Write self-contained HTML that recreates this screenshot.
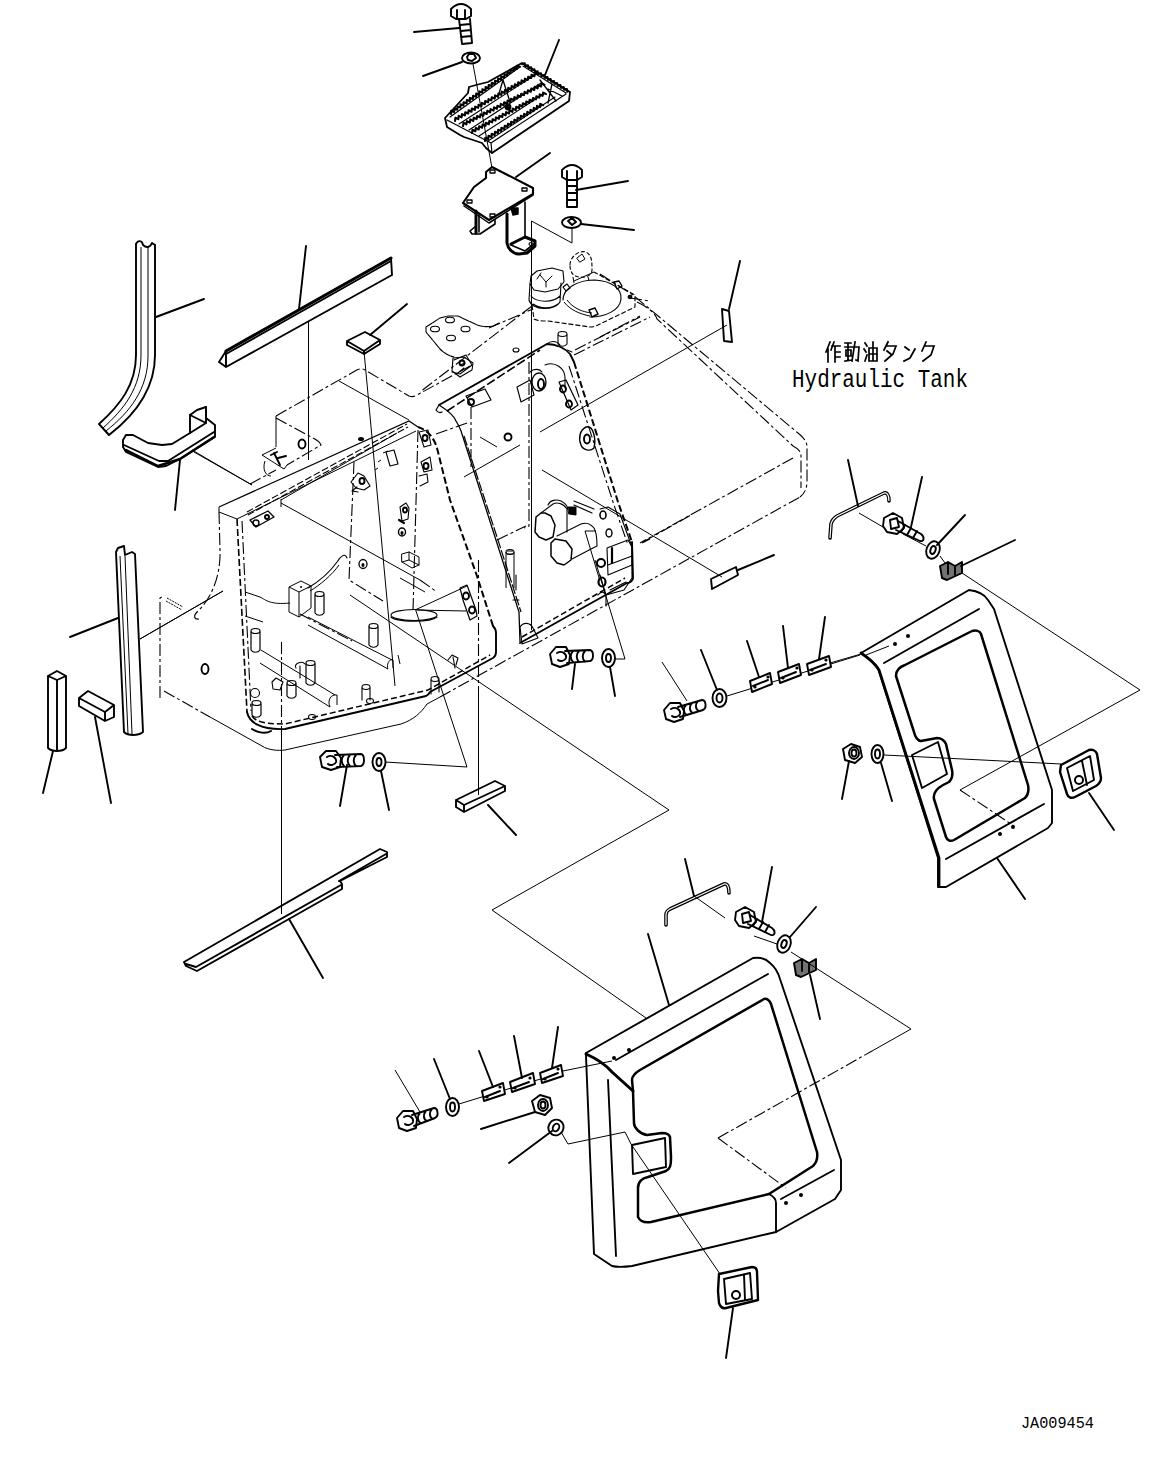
<!DOCTYPE html>
<html><head><meta charset="utf-8">
<style>
html,body{margin:0;padding:0;background:#fff;width:1163px;height:1460px;overflow:hidden}
svg{display:block;position:absolute;left:0;top:0}
.k{stroke:#000;fill:none;stroke-width:1.9;stroke-linejoin:round;stroke-linecap:round}
.t{stroke:#000;fill:none;stroke-width:1}
.w{stroke:#000;fill:none;stroke-width:2.4;stroke-linejoin:round;stroke-linecap:round}
.d{stroke:#000;fill:none;stroke-width:1.1;stroke-dasharray:12 3 3 3}
.dk{stroke:#000;fill:none;stroke-width:1.6;stroke-dasharray:7 3}
.txt{font-family:"Liberation Mono",monospace;fill:#000}
</style></head>
<body>
<svg width="1163" height="1460" viewBox="0 0 1163 1460">
<rect width="1163" height="1460" fill="#fff"/>

<!-- ===== TOP: bolt, washer, step, bracket ===== -->
<g id="top">
<path class="k" d="M451,9 Q461,-1 471,9 L471,16 L466,19 L456,19 L451,16 Z M457,10 L457,18 M465,10 L465,18"/>
<path class="k" d="M459,19 L462,44 L472,43 L470,19 M460,25 L470,24 M461,31 L471,30 M461,37 L471,36"/>
<path class="k" d="M414,32 L459,28"/>
<ellipse class="k" cx="471" cy="58" rx="9" ry="5.5"/>
<path class="k" d="M467,57 L469,54 L474,54 L476,58 L472,61 L468,60 Z"/>
<path class="k" d="M423,76 L462,62"/>
<path class="t" d="M473,64 L492,168"/>
</g>

<!-- ===== LEFT parts ===== -->
<g id="left">
<!-- curved channel -->
<path class="k" d="M136,244 L136,355 C136,385 120,405 99,424 L109,435 C135,415 155,390 155,355 L155,245"/>
<path class="k" d="M136,244 C138,240 142,240 143,245 C146,248 150,248 152,243 L155,245"/>
<path class="t" d="M141,247 L141,355 C141,388 124,409 103,428 M148,247 L148,356 C148,389 130,412 106,431"/>
<path class="k" d="M156,317 L204,299"/>
<!-- handle -->
<path class="k" d="M123,440 L126,435 L133,435 L148,443 L162,445 L172,444 L190,433 L190,415 L197,410 L206,407 L206,418 L215,425 L215,437 L180,459 L166,466 L158,467 L126,452 L123,447 Z"/>
<path class="k" d="M124,445 L159,461 L168,461 L214,432 M190,415 L206,423 L206,407 M190,433 L206,423"/>
<path class="w" d="M126,450 L158,466 L180,459 L214,437"/>
<path class="k" d="M180,460 L175,510"/>
<path class="t" d="M192,450 L252,485"/>
<!-- angle strip -->
<path class="w" d="M226,351 L391,258" style="stroke-width:3"/>
<path class="k" d="M391,258 L392,275 L226,367 L219,362 L226,351 Z M226,353 L226,367 M226,354 L391,261"/>
<path class="k" d="M306,246 L299,309"/>
<path class="t" d="M308.5,322 L308.5,460"/>
<!-- pad -->
<path class="k" d="M347,341 L365,332 L380,340 L380,344 L364,354 L347,345 Z M347,341 L364,351 L380,340 M364,351 L364,354"/>
<path class="k" d="M370,335 L407,304"/>
<path class="t" d="M364,351 L395,686"/>
<!-- vertical channel -->
<path class="k" d="M116,552 L124,732 C128,736 138,736 143,732 L135,554 M116,552 L118,548 L124,546 L125,555 L132,552 L135,554"/>
<path class="t" d="M120,556 L128,734 M125,556 L132,734"/>
<path class="k" d="M70,637 L118,618"/>
<path class="t" d="M140,639 L223,591"/>
<!-- square bar -->
<path class="k" d="M48,676 L57,671 L66,676 L66,748 C62,752 52,752 48,748 Z M48,676 L57,680 L66,676 M57,680 L57,750"/>
<path class="k" d="M53,751 L43,793"/>
<!-- small block -->
<path class="k" d="M79,698 L88,691 L114,705 L114,717 L105,721 L79,706 Z M79,698 L105,712 L114,705 M105,712 L105,721"/>
<path class="k" d="M95,717 L111,803"/>
<!-- long strip -->
<path class="k" d="M184,962 L380,849 L387,852 L387,857 L340,881 L342,884 L342,889 L197,971 L186,966 Z M196,967 L341,885 M339,881 L386,854 M186,964 L196,967"/>
<path class="t" d="M281.5,830 L281.5,914"/>
<path class="k" d="M289,919 L323,978"/>
</g>


<!-- ===== TOP additions: step plate + bracket + bolt2 ===== -->
<g id="top2">
<path class="k" d="M445,118 L447,127 L460,135 L464,137 L482,143 L486,148 L492,153 L569,101 L570,92 L522,63 L488,82 L476,85 L469,87 L468,93 Z" style="stroke-width:1.8"/>
<path class="k" d="M492,153 L491,143 L447,120 M491,143 L566,94 M450,117 L520,67 M523,66 L566,93" style="stroke-width:1.2"/>
<path class="k" d="M451.0,114.0 L451.1,110.8 L454.1,111.9 L454.2,108.6 L457.3,109.7 L457.4,106.5 L460.4,107.6 L460.5,104.3 L463.5,105.4 L463.6,102.2 L466.7,103.3 L466.8,100.0 L469.8,101.1 L469.9,97.9 L472.9,99.0 L473.0,95.7 L476.1,96.8 L476.2,93.6 L479.2,94.7 L479.3,91.4 L482.3,92.5 L482.4,89.3 L485.5,90.4 L485.6,87.1 L488.6,88.2 L488.7,85.0 L491.7,86.1 L491.8,82.8 L494.9,83.9 L495.0,80.7 L498.0,81.8 L498.1,78.5 L501.1,79.6 L501.2,76.4 L504.3,77.5 L504.4,74.2 L507.4,75.3 L507.5,72.1 L510.5,73.2 L510.6,70.0 L513.7,71.0 L513.8,67.8 L516.8,68.9 L516.9,65.7 L519.9,66.7" style="stroke-width:2.1"/>
<path class="k" d="M455.0,121.0 L455.4,117.8 L458.3,119.1 L458.7,115.9 L461.6,117.3 L462.0,114.1 L464.9,115.4 L465.3,112.2 L468.2,113.5 L468.6,110.3 L471.5,111.7 L471.9,108.5 L474.9,109.8 L475.2,106.6 L478.2,107.9 L478.5,104.7 L481.5,106.1 L481.8,102.9 L484.8,104.2 L485.2,101.0 L488.1,102.3 L488.5,99.1 L491.4,100.4 L491.8,97.2 L494.7,98.6 L495.1,95.4 L498.0,96.7 L498.4,93.5 L501.3,94.8 L501.7,91.6 L504.6,93.0 L505.0,89.8 L507.9,91.1 L508.3,87.9 L511.3,89.2 L511.6,86.0 L514.6,87.4 L514.9,84.2 L517.9,85.5 L518.2,82.3 L521.2,83.6 L521.6,80.4 L524.5,81.8 L524.9,78.6 L527.8,79.9 L528.2,76.7 L531.1,78.0 L531.5,74.8 L534.4,76.2 L534.8,73.0 L537.7,74.3" style="stroke-width:2.1"/>
<path class="k" d="M463.0,126.0 L463.5,122.8 L466.4,124.3 L466.9,121.1 L469.8,122.6 L470.3,119.4 L473.2,120.9 L473.7,117.7 L476.6,119.1 L477.1,116.0 L480.0,117.4 L480.5,114.2 L483.3,115.7 L483.9,112.5 L486.7,114.0 L487.3,110.8 L490.1,112.3 L490.6,109.1 L493.5,110.6 L494.0,107.4 L496.9,108.8 L497.4,105.7 L500.3,107.1 L500.8,103.9 L503.7,105.4 L504.2,102.2 L507.1,103.7 L507.6,100.5 L510.5,102.0 L511.0,98.8 L513.9,100.3 L514.4,97.1 L517.2,98.5 L517.8,95.4 L520.6,96.8 L521.2,93.7 L524.0,95.1 L524.6,91.9 L527.4,93.4 L527.9,90.2 L530.8,91.7 L531.3,88.5 L534.2,90.0 L534.7,86.8 L537.6,88.3 L538.1,85.1 L541.0,86.5 L541.5,83.4 L544.4,84.8" style="stroke-width:2.1"/>
<path class="k" d="M472.0,133.0 L472.5,129.8 L475.4,131.2 L475.8,128.0 L478.7,129.5 L479.2,126.3 L482.1,127.7 L482.6,124.5 L485.5,125.9 L485.9,122.7 L488.8,124.2 L489.3,121.0 L492.2,122.4 L492.6,119.2 L495.5,120.6 L496.0,117.4 L498.9,118.8 L499.4,115.7 L502.3,117.1 L502.7,113.9 L505.6,115.3 L506.1,112.1 L509.0,113.5 L509.5,110.3 L512.4,111.8 L512.8,108.6 L515.7,110.0 L516.2,106.8 L519.1,108.2 L519.5,105.0 L522.4,106.5 L522.9,103.3 L525.8,104.7 L526.3,101.5 L529.2,102.9 L529.6,99.7 L532.5,101.1 L533.0,98.0 L535.9,99.4 L536.4,96.2 L539.3,97.6 L539.7,94.4 L542.6,95.8 L543.1,92.6 L546.0,94.1" style="stroke-width:2.1"/>
<path class="k" d="M485.0,141.0 L485.3,137.8 L488.2,139.0 L488.5,135.8 L491.5,137.0 L491.7,133.8 L494.7,135.0 L495.0,131.8 L497.9,133.0 L498.2,129.8 L501.2,131.0 L501.4,127.8 L504.4,129.0 L504.7,125.8 L507.6,127.0 L507.9,123.8 L510.9,125.0 L511.1,121.8 L514.1,123.0 L514.4,119.8 L517.3,121.1 L517.6,117.8 L520.6,119.1 L520.8,115.8 L523.8,117.1 L524.1,113.9 L527.0,115.1 L527.3,111.9 L530.3,113.1 L530.5,109.9 L533.5,111.1 L533.8,107.9 L536.8,109.1 L537.0,105.9 L540.0,107.1 L540.2,103.9 L543.2,105.1" style="stroke-width:2.1"/>
<path class="k" d="M522.0,64.0 L524.7,63.3 L525.2,66.0 L527.9,65.3 L528.5,68.0 L531.2,67.2 L531.7,69.9 L534.4,69.2 L535.0,71.9 L537.6,71.2 L538.2,73.9 L540.9,73.2 L541.5,75.9 L544.1,75.1 L544.7,77.8 L547.4,77.1 L548.0,79.8 L550.6,79.1 L551.2,81.8 L553.9,81.1 L554.5,83.8 L557.1,83.0 L557.7,85.7 L560.4,85.0 L561.0,87.7 L563.6,87.0 L564.2,89.7 L566.9,89.0 L567.4,91.7" style="stroke-width:2.1"/>
<path class="k" d="M459,124 L535,75 M469,130 L541,83 M479,136 L545,93 M488,141 L555,97" style="stroke-width:1.1"/>
<path class="k" d="M503,80 L498,97 M503,80 L510,102 M540,80 L556,101 M548,89 L562,96 M552,84 L548,103" style="stroke-width:1.3"/>
<circle style="fill:#000" class="k" cx="508" cy="107" r="2.5"/>
<path class="k" d="M545,75 L559,40"/>
<!-- bracket -->
<path class="k" d="M492,167 L533,188 L533,194 L489,220 L463,203 L474,187 L486,178 L486,172 Z" style="stroke-width:2.1"/>
<path class="k" d="M464,206 L489,223 L533,195" style="stroke-width:1.5"/>
<path class="k" d="M490,170 L495,170 L495,173 L490,173 Z M522,188 L527,188 L527,191 L522,191 Z M467,200 L472,200 L472,203 L467,203 Z M490,214 L495,214 L495,217 L490,217 Z" style="stroke-width:1.3"/>
<path class="k" d="M476,211 L476,233" style="stroke-width:3"/>
<path class="k" d="M476,226 L470,231 L472,234 L480,234 L495,224 L495,220 M479,214 L479,232" style="stroke-width:1.6"/>
<path class="k" d="M507,214 L507,243 C508,249 513,254 519,254 L527,253 L535,246 L535,241 L525,237 L511,244" style="stroke-width:3"/>
<path class="k" d="M525,202 L525,237 M511,245 L525,251 L534,244" style="stroke-width:1.6"/>
<path class="k" d="M511,208 L518,208 L518,214 L513,215 Z" style="stroke-width:1.5;fill:#000"/>
<ellipse class="k" cx="531" cy="244" rx="2" ry="1.5" style="stroke-width:1.2"/>
<path class="k" d="M516,177 L550,153"/>
<!-- right bolt -->
<path class="k" d="M562,170 Q572,160 582,170 L582,177 L577,180 L567,180 L562,177 Z M567,171 L567,179 M577,171 L577,179"/>
<path class="k" d="M567,180 L567,207 L577,207 L577,180 M567,186 L577,186 M567,193 L577,193 M567,200 L577,200"/>
<path class="k" d="M576,190 L628,181"/>
<ellipse class="k" cx="571.5" cy="222.5" rx="9.5" ry="5.5"/>
<path class="k" d="M568,221 L572,218 L576,222 L572,225 Z"/>
<path class="k" d="M581,224 L634,230"/>
<path class="t" d="M572,228 L572,243 L531.5,221 L531.5,630"/>
</g>

<!-- ===== FRAME ===== -->
<g id="frame">
<!-- tank dashed outline -->
<path class="t" d="M276,447 L276,416"/><path class="d" d="M276,416 L355,371 C358,369 362,368 365,370 L409,396 C412,397 414,397 417,395 L470,366"/>
<path class="d" d="M436,434 L470,422"/>
<path class="d" d="M250,484 L276,470"/>
<path class="t" d="M339,381 L409,420"/>
<path class="t" d="M194,452 L252,485"/>
<!-- left wall top -->
<path class="t" d="M219,507 L409,421 L418,427" style="stroke-width:1.3"/>
<path class="t" d="M219,507 L219,512 L237,519 L416,431"/>
<path class="t" d="M247,512 L407,424 M248,515 L408,427"  style="stroke-width:1.1;stroke-dasharray:7 2.5"/>
<path class="t" d="M281,500 L397,433"/>
<!-- bracket on tank -->
<path class="d" d="M276,418 L313,438 C317,440 320,442 321,445 L287,465"/>
<path class="t" d="M262,455 L276,448 M262,455 L284,469 L287,465 M265,461 C262,470 266,476 271,476"/>
<ellipse class="k" cx="302" cy="444" rx="3.5" ry="4.5"/>
<path class="k" d="M271,455 L277,452 M274,453 L280,465 M278,458 L286,456"/>
<ellipse cx="361" cy="439" rx="3" ry="2"/>
<path class="k" d="M386,452 L394,450 L398,464 L390,466 Z" style="stroke-width:1.1"/>

<!-- left front edge -->
<path class="dk" d="M237,519 L247,712"/>
<path class="d" d="M242,521 L251,711"/>
<path class="d" d="M219,512 L220,550 C221,578 210,600 197,612 C193,616 194,620 200,619"/>
<path class="d" d="M160,698 L160,598 L164,596"/>
<path style="stroke-dasharray:2 1" class="t" d="M167,598 L183,607 M166,601 L182,610" />
<path class="d" d="M164,691 L210,717"/><path class="t" d="M210,717 L262,746 C268,750 278,751 285,750 L401,724 C413,720 421,713 427,704 L440,697"/><path class="d" d="M440,697 L800,497"/>
<ellipse class="k" cx="205" cy="669" rx="3.5" ry="5"/>
<path class="t" d="M140,639 L223,591"/>
<!-- front bottom edge -->
<path class="k" d="M247,712 C249,722 260,730 285,729 L426,696 C428,695 429,694 430,692 L493,658 C496,656 496,654 496,652 L496,633 C496,630 495,628 493,626"/>
<path class="d" d="M252,716 C256,722 265,724 285,724 L428,690 L490,655" style="stroke-width:1.5;stroke-dasharray:6 3" />
<!-- right edge of left part -->
<path class="dk" d="M493,626 L477,576 L450,500 L437,448 C434,438 428,430 418,427" style="stroke-width:2"/>
<path class="d" d="M418,430 L413,611"/>
<path class="d" d="M354,462 L349,580 L383,601"/>
<path class="t" d="M281,503 L420,580"/>
<path class="d" d="M420,580 L437,592"/>
<path class="t" d="M350,595 L669,810 L492,910 L646,1018"/>
<path class="d" d="M281.5,642 L281.5,735"/><path class="t" d="M281.5,735 L281.5,830"/>
<path class="d" d="M478.5,560 L478.5,690"/><path class="t" d="M478.5,690 L478.5,795"/>
<!-- washer leader -->
<path class="t" d="M385,762 L467,767 L416,611"/>
<path class="t" d="M415,610 L466,611 M415,610 L467,586"/>
<ellipse class="k" cx="414" cy="615" rx="23" ry="5.5" style="stroke-width:1.1"/>
<path class="k" d="M391,617 C396,622 430,623 437,617" style="stroke-width:1.1"/>
<!-- second panel -->
<path class="k" d="M439,405 L547,344 C556,344 565,348 570,354 L574,362"/>
<path class="d" d="M447,411 L540,350" style="stroke-width:1.6;stroke-dasharray:9 3" />
<path class="dk" d="M574,362 L618,502 L632,542" style="stroke-width:2"/>
<path class="d" d="M569,366 L614,505 L628,545"/>
<path class="k" d="M632,542 L633,578 C633,581 630,583 627,583 L520,643"/>
<path class="d" d="M522,637 L625,578" style="stroke-width:1.5;stroke-dasharray:6 3" />
<path class="t" d="M439,405 C447,410 454,415 456,421 C459,426 461,430 462,434 L495,537 L519,612 L520,642" style="stroke-width:1.3"/><path class="t" d="M464,436 L497,537 L521,612"  style="stroke-width:1.2;stroke-dasharray:10 2"/><path class="k" d="M439,405 L436,410 C438,413 440,413 442,412" style="stroke-width:1.2"/>
<path class="d" d="M471,407 L471,468"/>
<path class="d" d="M529,362 L529,526 L524,528"/>
<path class="t" d="M540,432 L727,325"/>
<path class="t" d="M464,477 L520,445"/>
<path class="t" d="M542,470 L722,577"/>
<path class="k" d="M711,579 L736,567 L738,575 L712,589 Z"/>
<path class="k" d="M738,570 L774,555"/>
<path class="d" d="M497,540 L526,526"/>
<path class="d" d="M643,542 L691,515"/>
<!-- tank right -->
<path class="d" d="M600,274 L633,295 L798,433 C803,437 807,441 807,447 L807,481 C807,488 805,493 800,497"/>
<path class="d" d="M637,302 C648,307 655,313 657,319 L793,446 C797,448 801,451 801,455 L801,488"/>
<path class="d" d="M793,458 L640,543"/>
<path class="d" d="M600,337 L640,316"/>
<path class="d" d="M532,306 L420,392"/>
<path class="d" d="M575,350 L640,317"/>
<path class="d" d="M489,328 L533,309"/>
<!-- label -->
<path class="k" d="M722,309 L729,311 L732,342 L724,341 Z"/>
<path class="k" d="M729,309 L740,261"/>
</g>



<!-- frame internal details -->
<g id="fdet">
<path class="t" d="M289,587 L301,581 L311,586 L299,592 Z M289,587 L289,612 L299,617 L299,592 M311,586 L311,608 L299,617"/>
<circle cx="301" cy="587" r="1"/>
<path class="k" d="M315,595 L315,613 C317,616 322,616 324,613 L324,595" style="stroke-width:1.2"/><ellipse class="k" cx="319.5" cy="594" rx="4.5" ry="2.5" style="stroke-width:1.2"/>
<path class="k" d="M369,627 L369,645 C371,648 376,648 378,645 L378,627" style="stroke-width:1.2"/><ellipse class="k" cx="373.5" cy="626" rx="4.5" ry="2.5" style="stroke-width:1.2"/>
<path class="k" d="M251,632 L251,650 C253,653 258,653 260,650 L260,632" style="stroke-width:1.2"/><ellipse class="k" cx="255.5" cy="631" rx="4.5" ry="2.5" style="stroke-width:1.2"/>
<path class="k" d="M306,664 L306,683 C308,686 313,686 315,683 L315,664" style="stroke-width:1.2"/><ellipse class="k" cx="310.5" cy="663" rx="4.5" ry="2.5" style="stroke-width:1.2"/>
<path class="k" d="M300,666 L300,678 M296,668 C293,664 302,660 305,664" style="stroke-width:1.1"/>
<path class="k" d="M287,684 L287,696 C289,699 294,699 296,696 L296,684" style="stroke-width:1.2"/><ellipse class="k" cx="291.5" cy="683" rx="4.5" ry="2.5" style="stroke-width:1.2"/>
<path class="k" d="M252,704 L252,715 C254,718 259,718 261,715 L261,704" style="stroke-width:1.2"/><ellipse class="k" cx="256.5" cy="703" rx="4.5" ry="2.5" style="stroke-width:1.2"/>
<circle class="k" cx="255" cy="693" r="4.5" style="stroke-width:1.1"/>
<path class="k" d="M362,688 L362,700 M370,688 L370,700" style="stroke-width:1.1"/><ellipse class="k" cx="366" cy="687" rx="4" ry="2.5" style="stroke-width:1.1"/><ellipse class="k" cx="370" cy="701" rx="3.5" ry="2.5" style="stroke-width:1.1"/>
<path class="k" d="M431,680 L431,694 M439,680 L439,692" style="stroke-width:1.1"/><ellipse class="k" cx="435" cy="679" rx="4" ry="2.5" style="stroke-width:1.1"/>
<path class="k" d="M272,682 L276,678 L283,682 L280,690 L273,689 Z" style="stroke-width:1.1"/>
<ellipse class="k" cx="312" cy="717" rx="3.5" ry="2.5" style="stroke-width:1.1"/>
<path class="t" d="M308,617 L392,660 M308,625 L388,669 M388,669 C386,664 390,658 393,660 L393,668 M398,655 L400,664"/>
<path class="t" d="M261,650 L335,695 M260,663 L330,707 M330,707 C327,700 331,694 337,695 L337,705"/>
<path class="d" d="M300,614 L352,641"/>
<path class="t" d="M245,592 L260,597 C266,600 270,605 290,603 M245,616 L263,622"/>
<path class="k" d="M308,588 C318,582 330,572 337,562 C340,557 345,552 347,558" style="stroke-width:1.1"/>
<path class="t" d="M310,591 C320,585 332,575 339,565"/>




<path class="t" d="M400,578 L425,592"/>
<!-- bracket near ellipse -->
<path class="k" d="M460,588 L467,585 L476,610 L477,616 L470,620 L463,600 Z" style="stroke-width:1.2"/>
<ellipse class="k" cx="466" cy="596" rx="3" ry="3.5"/><ellipse class="k" cx="472" cy="610" rx="3" ry="3.5"/>
<!-- bottom band details -->
<path class="k" d="M448,660 L452,655 L458,658 L456,665 M453,657 L455,668" style="stroke-width:1.1"/>
<path class="k" d="M252,729 C258,733 266,734 271,731" style="stroke-width:2"/>
<!-- top-left frame details -->
<path class="k" d="M250,520 L268,511 L274,517 L256,527 Z" style="stroke-width:1.3"/>
<ellipse class="k" cx="256" cy="523" rx="3" ry="3" style="stroke-width:1.4"/><ellipse class="k" cx="267" cy="517" rx="2" ry="2"/>
<path class="t" d="M281,499 L281,507"/>
<path class="k" d="M351,482 L358,473 L364,476 L370,486 L364,490 L356,488 Z" style="stroke-width:1.1"/>
<ellipse class="k" cx="362" cy="481" rx="2.5" ry="3"/>
<path class="k" d="M357,487 L352,491 L358,492" style="stroke-width:1.2"/>
<path class="k" d="M419,432 L428,430 L431,445 L424,447 Z" style="stroke-width:1.1"/>
<path class="k" d="M421,462 L430,457 L432,470 L424,472 Z" style="stroke-width:1.1"/>
<ellipse class="k" cx="426" cy="466" rx="2.5" ry="3"/><ellipse class="k" cx="425" cy="438" rx="2.5" ry="3"/>
<path class="k" d="M419,476 L427,474 L428,482 L420,486" style="stroke-width:1.1"/>
<path class="k" d="M400,507 L406,503 L409,508 L408,519 L402,521 Z" style="stroke-width:1.1"/>
<ellipse class="k" cx="405" cy="510" rx="2" ry="2.5"/>
<path class="k" d="M399,520 L404,523" style="stroke-width:2.2"/>
<ellipse class="k" cx="402" cy="532" rx="3.5" ry="4" style="stroke-width:1.4"/><ellipse cx="402" cy="533" rx="1.5" ry="2"/>
<path class="k" d="M402,554 L409,552 L419,557 L419,565 L412,568 L402,562 Z M409,552 L409,560 L419,565 M402,562 L409,560" style="stroke-width:1"/>
<ellipse class="k" cx="363" cy="564" rx="4" ry="4.5" style="stroke-width:1.3"/><ellipse cx="363" cy="565" rx="1.5" ry="2"/>
<path class="t" d="M383,453 L388,451 M378,462 L381,460 M375,470 L378,468"/>
</g>


<!-- second panel internals -->
<g id="p2det">
<path class="k" d="M545,513 L541,513 L536,517 L535,532 L539,537 L546,540 L553,537 L555,525 L551,516 Z" style="stroke-width:1.5"/>
<path class="k" d="M555,539 L551,543 L551,556 L557,563 L564,565 L571,560 L572,549 L566,541 Z" style="stroke-width:1.5"/>
<path class="k" d="M541,513 L553,504 C557,502 563,503 567,509 L567,532 M548,505 C550,500 556,499 561,501 C565,503 567,505 568,509" style="stroke-width:1.1"/>
<path class="k" d="M557,536 L581,524 C586,522 591,524 594,528 C597,533 597,540 597,546 L591,549 L572,559" style="stroke-width:1.1"/>
<path class="k" d="M568,507 L576,507 L576,515 L569,514 Z" style="stroke-width:1;fill:#000"/>
<path class="k" d="M574,501 L594,509 M574,505 L592,513" style="stroke-width:1.2"/>
<path class="t" d="M585,531 L596,531 M585,531 L600,581"/>
<path class="k" d="M600,509 L608,507 L620,514 L632,547 L632,578 L624,590 L606,595 L600,575" style="stroke-width:1.1;fill:none"/>
<ellipse class="k" cx="603" cy="515" rx="3" ry="4" style="stroke-width:1.6"/>
<ellipse class="k" cx="609" cy="533" rx="3" ry="4" style="stroke-width:1.4"/>
<ellipse class="k" cx="601" cy="563" rx="4" ry="4" style="stroke-width:2"/>
<ellipse class="k" cx="602" cy="582" rx="3.5" ry="4.5" style="stroke-width:2.2"/>
<path class="k" d="M607,548 L628,540 L632,547 L632,565 L608,575 Z M608,565 L632,556 M610,590 L626,582" style="stroke-width:1.1"/>
<path class="k" d="M612,548 L612,563" style="stroke-width:2.2"/>
<path class="d" d="M642,543 L650,539"/>
<path class="k" d="M586,427 C594,425 596,440 594,448 C590,452 583,450 581,445 C578,438 580,430 586,427 Z" style="stroke-width:1.4"/>
<ellipse class="k" cx="587" cy="439" rx="3" ry="4.5"/>
<path class="k" d="M517,387 L530,380 L534,395 L521,402 Z" style="stroke-width:1.1"/>
<ellipse class="k" cx="539" cy="382" rx="7" ry="9" style="stroke-width:1.3"/><ellipse class="k" cx="541" cy="384" rx="3" ry="5"/>
<path class="k" d="M530,372 C534,368 540,369 542,372 M545,365 C555,361 565,368 565,378 L565,388" style="stroke-width:1.1"/>
<path class="k" d="M559,382 L566,380 L578,405 L571,410 Z" style="stroke-width:1.2"/>
<ellipse class="k" cx="563" cy="389" rx="3" ry="3.5"/><ellipse class="k" cx="569" cy="404" rx="3" ry="3.5"/>
<path class="t" d="M506,552 L506,588 M514,552 L514,588"/><ellipse class="k" cx="510" cy="552" rx="4" ry="2.5" style="stroke-width:1.1"/><path class="t" d="M507,551 L513,551 M507,554 L513,554"/>
<path class="k" d="M520,627 C523,622 530,622 533,628 L538,638 L522,644 Z" style="stroke-width:1.1"/>
<path class="k" d="M466,396 L485,389 L491,400 L472,407 Z" style="stroke-width:1.2"/>
<ellipse class="k" cx="471" cy="402" rx="3" ry="3"/>
<path class="k" d="M454,360 L466,355 L472,365 L460,374 L452,372" style="stroke-width:1.1"/>
<ellipse class="k" cx="462" cy="363" rx="2.5" ry="2.5"/>
<ellipse class="k" cx="508" cy="437" rx="3.5" ry="3.5"/>
<path class="t" d="M480,437 L497,447"/>
<path class="k" d="M547,344 C550,341 556,340 560,345 M567,350 L572,352" style="stroke-width:1.1"/>
<path class="k" d="M516,575 L516,590 M513,600 L519,600" style="stroke-width:1.1"/>
<path class="k" d="M598,595 C602,590 606,592 606,598 L606,606" style="stroke-width:1.1"/>
</g>


<!-- cap assembly -->
<g id="cap">
<path style="stroke-dasharray:5 2" class="d" d="M532,305 L534,319 C538,321 543,321 548,321 L590,327 C593,327 596,326 598,325 L635,307 L635,295 L594,272" />
<path class="k" d="M531,276 L537,271 L552,268 L563,271 L564,282 L558,289 L545,292 L534,290 L530,284 Z" style="stroke-width:1.1"/>
<path class="k" d="M540,275 L546,282 L552,276 M546,282 L546,287 M537,279 L541,273" style="stroke-width:1"/>
<path class="k" d="M530,284 L529,300 C532,311 555,311 560,302 L561,283 M531,296 C537,303 553,303 560,296 M533,304 C540,309 552,309 558,304" style="stroke-width:1.1"/>
<path class="k" d="M563,287 L567,284 L570,288 L566,291 Z" style="stroke-width:1.2"/>
<path style="stroke-dasharray:4 2" class="d" d="M570,265 C570,256 580,250 586,252 C592,255 592,262 592,270 C592,275 586,278 580,277 C574,277 570,273 570,265 Z" />
<path class="k" d="M577,258 L582,254 L585,259 L580,262 Z" style="stroke-width:1"/>
<path class="t" d="M573,277 L574,283 M588,277 L589,281"/>
<path class="k" d="M563,300 C563,288 578,280 595,280 C612,281 622,289 621,299 C620,310 606,317 590,317" style="stroke-width:1.1"/>
<path class="t" d="M564,302 C570,310 580,314 590,316 M567,300 C573,308 582,312 592,313"/>
<path class="k" d="M614,282 L619,281 L622,286 L617,289 Z" style="stroke-width:1.4"/>
<path class="k" d="M589,310 L595,308 L598,314 L592,317 Z" style="stroke-width:1.4"/>
<path class="t" d="M574,281 L594,272"/>
<ellipse class="k" cx="630" cy="297" rx="1.5" ry="1.2"/>
<path class="d" d="M630,298 L650,301"/>
<path class="d" d="M574,355 L650,317"/>
<!-- bracket plate -->
<path class="k" d="M426,327 L440,318 L448,316 L458,316 L477,325 C483,327 488,327 493,326 L499,323 M426,327 L426,332 L440,349 C444,353 449,356 454,357" style="stroke-width:1.1;stroke-dasharray:7 1" />
<ellipse class="k" cx="450" cy="320" rx="4.5" ry="2.8" style="stroke-width:1.1"/>
<ellipse class="k" cx="435" cy="329" rx="4.5" ry="2.8" style="stroke-width:1.1"/>
<ellipse class="k" cx="465.5" cy="329" rx="4.5" ry="2.8" style="stroke-width:1.1"/>
<ellipse class="k" cx="451" cy="338" rx="4.5" ry="2.8" style="stroke-width:1.1"/>
<path class="k" d="M453,358 L464,357 L473,363 L472,370 L460,377 L452,371 Z M460,365 L465,363 M458,373 L464,368" style="stroke-width:1.1"/>
<ellipse class="k" cx="516" cy="350" rx="3" ry="2" style="stroke-width:1.1"/>
<path class="k" d="M558,335 L558,344 C560,347 565,347 567,344 L567,335" style="stroke-width:1.1"/><ellipse class="k" cx="562.5" cy="334" rx="4.5" ry="2.5" style="stroke-width:1.1"/>
</g>

<!-- ===== RIGHT small parts ===== -->
<g id="rparts">
<!-- pin upper -->
<path class="w" d="M830,538 L831,524 C832,520 834,518 837,516 L884,493 C887,492 889,495 889,501" style="stroke-width:3.6"/>
<path d="M830,538 L831,524 C832,520 834,518 837,516 L884,493 C887,492 889,495 889,501" stroke="#fff" style="stroke-width:1.2" fill="none"/>
<path class="k" d="M858,506 L848,460"/>
<!-- bolt -->
<path class="k" d="M884,518 L893,513 L902,518 L904,528 L897,534 L887,532 L883,526 Z M890,520 L897,518 L899,527 L891,529 Z"/>
<path class="k" d="M898,521 L921,534 C925,537 924,542 920,541 L896,530"/>
<path class="k" d="M905,525 L901,532 M911,528 L907,535 M917,531 L913,538"/>
<path class="k" d="M911,527 L922,477"/>
<ellipse class="k" cx="933" cy="550" rx="6.5" ry="9" transform="rotate(20 933 550)"/>
<ellipse class="k" cx="933" cy="550" rx="2.5" ry="4" transform="rotate(20 933 550)"/>
<path class="k" d="M937,545 L965,515"/>
<path style="fill-opacity:0.55;fill:#000" class="k" d="M940,566 L948,562 L955,566 L962,562 L962,573 L947,580 L942,578 Z M948,562 L948,574 M955,566 L955,575"/>
<path class="k" d="M961,566 L1015,540"/>
<path class="t" d="M859,513 L883,527 M903,534 L926,546 M940,556 L945,563 M962,573 L1140,690 L960,790"/>
<path class="d" d="M960,790 L1014,826"/>
<!-- middle bolt/washer/clips -->
<path class="k" d="M664,710 L670,703 L680,703 L684,711 L683,719 L674,722 L666,719 Z M671,709 C676,706 681,710 680,714 C679,717 674,718 672,716"/>
<path class="k" d="M678,707 L702,700 C706,700 707,708 703,710 L680,717 M686,705 C683,708 683,713 687,715 M692,703 C689,706 689,711 693,713 M698,701 C695,704 695,709 699,711"/>
<path class="t" d="M662,662 L687,701"/>
<path class="k" d="M701,650 L717,690"/>
<ellipse class="k" cx="719.5" cy="698" rx="7" ry="9"/>
<ellipse class="k" cx="719.5" cy="698" rx="3" ry="4.5"/>
<path class="t" d="M727,696 L860,655"/>
<path style="fill:#fff" class="k" d="M750,681 L770,673 L772,684 L752,692 Z M753,686 L768,680"/>
<circle cx="755" cy="687" r="1.6"/><circle cx="768" cy="677" r="1.6"/>
<path class="k" d="M747,641 L759,677"/>
<path style="fill:#fff" class="k" d="M778,672 L799,664 L801,675 L780,683 Z M781,678 L796,672"/>
<circle cx="783" cy="678" r="1.6"/><circle cx="797" cy="668" r="1.6"/>
<path class="k" d="M783,626 L788,668"/>
<path style="fill:#fff" class="k" d="M807,664 L829,656 L831,667 L809,675 Z M810,670 L826,664"/>
<circle cx="812" cy="670" r="1.6"/><circle cx="826" cy="660" r="1.6"/>
<path class="k" d="M825,617 L819,659"/>
<!-- lower-left bolts -->
<path class="k" d="M320,757 L326,751 L336,751 L341,758 L340,767 L331,770 L322,767 Z M327,757 C332,754 337,758 336,762 C335,765 330,766 328,764"/>
<path class="k" d="M335,755 L361,754 C365,755 365,765 361,766 L337,767 M344,755 C341,758 341,763 344,766 M350,755 C347,758 347,763 350,766 M356,755 C353,758 353,763 356,766"/>
<path class="k" d="M347,765 L340,806"/>
<ellipse class="k" cx="379" cy="762" rx="6.5" ry="9"/>
<ellipse class="k" cx="379" cy="762" rx="2.5" ry="4"/>
<path class="k" d="M381,771 L389,810"/>
<!-- pad lower -->
<path class="k" d="M456,800 L495,781 L505,786 L505,791 L464,812 L456,807 Z M456,800 L464,805 L505,786 M464,805 L464,812"/>
<path class="k" d="M488,805 L516,835"/>
<!-- right of frame bolt -->
<path class="k" d="M550,654 L556,647 L566,647 L570,655 L569,664 L560,667 L552,664 Z M557,653 C562,650 567,654 566,658 C565,661 560,662 558,660"/>
<path class="k" d="M565,651 L590,650 C594,651 594,660 590,661 L567,663 M573,651 C570,654 570,659 573,662 M579,651 C576,654 576,659 579,662 M585,651 C582,654 582,659 585,662"/>
<path class="k" d="M575,664 L572,689"/>
<ellipse class="k" cx="608.5" cy="658" rx="6.5" ry="9"/>
<ellipse class="k" cx="608.5" cy="658" rx="2.5" ry="4"/>
<path class="k" d="M610,667 L615,696"/>
<path class="t" d="M615,659 L625,659 L595,560"/>
</g>

<!-- ===== RIGHT DOOR ===== -->
<g id="door1">
<path class="k" d="M861,653 L969,590 C978,591 985,595 988,600 L994,609 L1052,790 L1052,823 L1048,828 L946,887 L938,887 L938,858 L878,668 C874,662 867,657 861,653 Z"/>
<path class="w" d="M861,653 C867,657 874,662 879,670 L939,858 L939,886" style="stroke-width:2.8"/>
<path class="k" d="M884,663 L979,609"/>
<path class="k" d="M946,859 L1044,804"/>
<path class="w" d="M896,676 C896,670 899,667 905,665 L972,631 C976,630 980,631 981,634 L1028,785 C1029,790 1028,795 1025,798 L954,840 C950,842 947,840 946,837 L934,799 C933,794 936,789 943,785 L949,782 C952,779 953,775 952,770 L946,744 C944,740 941,738 937,738 L921,741 C918,741 915,737 914,732 Z" style="stroke-width:2.5"/>
<path class="k" d="M912,755 L938,742 L947,774 L922,788 Z"/>
<circle cx="895" cy="644" r="2"/><circle cx="908" cy="636" r="2"/>
<circle cx="1000" cy="834" r="2"/><circle cx="1013" cy="827" r="2"/>
<path class="t" d="M830,663 L861,654 M866,655 L889,646"/>
<path class="k" d="M997,858 L1025,899"/>
<!-- nut & washer -->
<path class="k" d="M843,749 L851,744 L860,747 L862,757 L855,763 L845,760 Z"/>
<ellipse class="k" cx="854" cy="753" rx="5" ry="6"/><ellipse class="k" cx="854" cy="753" rx="2.5" ry="3.5"/>
<path class="k" d="M849,761 L842,799"/>
<ellipse class="k" cx="877.5" cy="754" rx="6" ry="9"/>
<ellipse class="k" cx="877.5" cy="754" rx="2.5" ry="4.5"/>
<path class="k" d="M881,763 L892,801"/>
<path class="t" d="M884,755 L1061,764"/>
<!-- latch -->
<path class="w" d="M1061,765 L1089,750 C1093,749 1096,751 1097,754 L1101,778 C1101,782 1099,784 1096,786 L1075,797 C1071,799 1068,797 1067,794 L1060,772 Z" style="stroke-width:2.4"/>
<path class="k" d="M1067,768 L1090,756 L1094,780 L1073,791 Z M1082,761 L1087,785"/>
<circle class="k" cx="1079" cy="780" r="4" style="stroke-width:2"/>
<path class="k" d="M1089,793 L1114,830"/>
</g>

<!-- ===== LOWER DOOR ===== -->
<g id="door2">
<path class="k" d="M586,1053 L753,958 C760,957 766,959 770,963 C775,967 778,972 780,979 L841,1160 L841,1190 L835,1199 L776,1232 L632,1266 C624,1267 616,1267 612,1266 L594,1254 L586,1056 Z"/>
<path class="k" d="M608,1080 L616,1256"/>
<path class="w" d="M586,1054 C595,1058 605,1064 612,1072 L633,1091" style="stroke-width:3"/>
<path class="k" d="M616,1060 L768,974"/>
<path class="w" d="M633,1091 L632,1080 C632,1076 635,1073 640,1070 L764,999 C767,998 770,1001 771,1004 L817,1152 C818,1158 816,1163 813,1166 L769,1194 L651,1222 C645,1223 640,1221 638,1217 L638,1188 C638,1182 642,1178 648,1177 L666,1171 C670,1169 671,1166 671,1157 L670,1137 C669,1134 666,1133 662,1133 L647,1135 C640,1134 634,1128 634,1123 Z" style="stroke-width:2.5"/>
<path class="k" d="M632,1145 L665,1138 L666,1167 L633,1174 Z"/>
<path class="k" d="M769,1194 C773,1196 776,1199 776,1203 L776,1232"/>
<path class="k" d="M781,1199 L834,1170"/>
<circle cx="614" cy="1058" r="2"/><circle cx="629" cy="1050" r="2"/>
<circle cx="786" cy="1203" r="2"/><circle cx="801" cy="1195" r="2"/>
<path class="t" d="M561,1132 L568,1144 L625,1132 L631,1144 L720,1274"/>
<path class="d" d="M718,1138 L872,1051 M718,1138 L786,1188"/>

<path class="k" d="M648,934 L669,1005"/>
<!-- pin lower -->
<path class="w" d="M666,925 L666,915 C666,912 668,910 670,909 L724,884 C727,883 729,886 729,893" style="stroke-width:3.6"/>
<path d="M666,925 L666,915 C666,912 668,910 670,909 L724,884 C727,883 729,886 729,893" stroke="#fff" style="stroke-width:1.2" fill="none"/>
<path class="k" d="M685,859 L694,896"/>
<path class="t" d="M694,896 L725,918 M754,936 L777,944 M791,952 L911,1029 L872,1051"/>
<!-- bolt -->
<path class="k" d="M736,912 L745,907 L754,912 L756,922 L749,928 L739,926 L735,920 Z M742,914 L749,912 L751,921 L743,923 Z"/>
<path class="k" d="M750,915 L772,928 C776,931 775,936 771,935 L748,924"/>
<path class="k" d="M757,919 L753,926 M763,922 L759,929 M769,925 L765,932"/>
<path class="k" d="M762,922 L772,867"/>
<ellipse class="k" cx="784" cy="944" rx="6.5" ry="9" transform="rotate(20 784 944)"/>
<ellipse class="k" cx="784" cy="944" rx="2.5" ry="4" transform="rotate(20 784 944)"/>
<path class="k" d="M790,937 L816,907"/>
<path style="fill-opacity:0.55;fill:#000" class="k" d="M794,963 L802,959 L809,963 L816,959 L816,970 L801,977 L796,975 Z M802,959 L802,971 M809,963 L809,972"/>
<path class="k" d="M810,975 L820,1019"/>
<!-- lower-left bolts -->
<path class="k" d="M397,1118 L403,1111 L413,1111 L417,1119 L416,1128 L407,1131 L399,1128 Z M404,1117 C409,1114 414,1118 413,1122 C412,1125 407,1126 405,1124"/>
<path class="k" d="M412,1115 L434,1108 C438,1108 439,1116 435,1118 L414,1126 M420,1113 C417,1116 417,1121 421,1123 M426,1111 C423,1114 423,1119 427,1121 M432,1109 C429,1112 429,1117 433,1119"/>
<path class="t" d="M395,1070 L420,1112"/>
<ellipse class="k" cx="452.5" cy="1107" rx="6.5" ry="9"/>
<ellipse class="k" cx="452.5" cy="1107" rx="2.5" ry="4.5"/>
<path class="k" d="M434,1059 L450,1099"/>
<path class="t" d="M459,1104 L560,1073 M563,1071 L612,1061"/>
<path style="fill:#fff" class="k" d="M482,1091 L503,1083 L505,1094 L484,1101 Z M485,1097 L500,1091"/>
<circle cx="487" cy="1097" r="1.6"/><circle cx="500" cy="1087" r="1.6"/>
<path class="k" d="M479,1051 L493,1087"/>
<path style="fill:#fff" class="k" d="M510,1082 L533,1073 L535,1084 L512,1092 Z M513,1088 L529,1082"/>
<circle cx="515" cy="1088" r="1.6"/><circle cx="530" cy="1078" r="1.6"/>
<path class="k" d="M514,1036 L522,1078"/>
<path style="fill:#fff" class="k" d="M540,1073 L561,1065 L563,1076 L542,1083 Z M543,1079 L558,1073"/>
<circle cx="545" cy="1079" r="1.6"/><circle cx="558" cy="1069" r="1.6"/>
<path class="k" d="M558,1027 L552,1068"/>
<path class="k" d="M532,1101 L540,1095 L550,1098 L552,1108 L545,1115 L535,1112 Z"/>
<ellipse class="k" cx="543" cy="1105" rx="5" ry="6"/><ellipse class="k" cx="543" cy="1105" rx="2.5" ry="3.5"/>
<path class="k" d="M481,1129 L535,1112"/>
<ellipse class="k" cx="556" cy="1127.5" rx="7.5" ry="8" transform="rotate(30 556 1127.5)"/>
<ellipse class="k" cx="556" cy="1127.5" rx="3" ry="4" transform="rotate(30 556 1127.5)"/>
<path class="k" d="M509,1163 L552,1131"/>
<!-- latch lower -->
<path class="w" d="M719,1274 L752,1267 C755,1267 757,1269 757,1272 L758,1300 L726,1308 C722,1309 720,1306 719,1303 L718,1291 Z" style="stroke-width:2.4"/>
<path class="k" d="M724,1279 L750,1273 L752,1299 L726,1304 Z M744,1275 L745,1300"/>
<circle class="k" cx="736" cy="1295" r="4" style="stroke-width:2"/>
<path class="k" d="M733,1308 L726,1358"/>
</g>

<!-- ===== TEXT ===== -->
<g id="jp" stroke="#000" fill="none" style="stroke-width:1.7" stroke-linecap="square">
<path d="M830,342 L826,352 M828,349 L828,362 M834,342 L831,350 M832,346 L840,346 M835,346 L835,362 M835,352 L840,352 M835,357 L840,357"/>
<path d="M845,343 L851,343 M845,347 L851,347 M846,350 L851,350 L851,356 L846,356 Z M845,361 L852,360 M848,343 L848,361 M852,347 L859,347 L858,361 L856,360 M855,342 L852,361"/>
<path d="M865,343 L867,346 M864,349 L866,352 M865,361 L867,355 M869,348 L877,348 L877,361 L869,361 Z M873,342 L873,361 M869,354 L877,354"/>
<path d="M888,342 L884,350 M887,346 L896,346 L893,354 L885,361 M887,351 L892,355"/>
<path d="M905,347 L909,350 M904,361 L910,358 L915,349"/>
<path d="M926,342 L922,351 M925,346 L934,346 L931,355 L923,361"/>
</g>

<text class="txt" x="792" y="387" font-size="20.8" textLength="176" lengthAdjust="spacingAndGlyphs" transform="translate(0,-77) scale(1,1.2)">Hydraulic Tank</text>
<text class="txt" x="1021" y="1428" font-size="15" textLength="73" lengthAdjust="spacingAndGlyphs" transform="translate(0,-214.2) scale(1,1.15)">JA009454</text>

</svg>
</body></html>
